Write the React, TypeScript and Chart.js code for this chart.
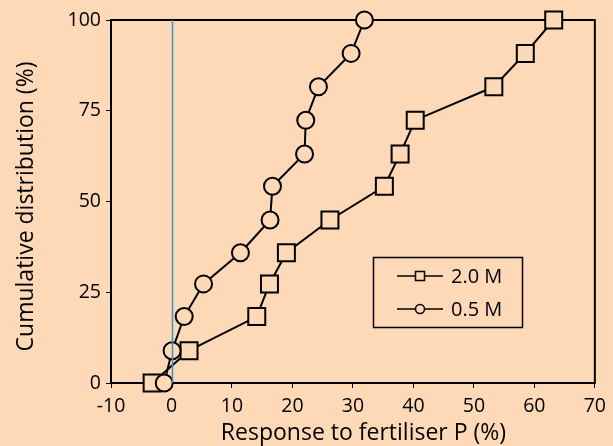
import React, { useEffect, useRef } from "react";
import { Chart, registerables } from "chart.js";

Chart.register(...registerables);

const BG = "#FDD9B7";
const FONT = "'Open Sans', 'Noto Sans', sans-serif";

const seriesLabels = ["2.0 M", "0.5 M"];
const cumulative2M = [0, 8.9, 18.3, 27.3, 35.9, 44.9, 54.2, 63.1, 72.4, 81.6, 90.8, 100];
const response2M = [-3.2, 2.9, 14.1, 16.2, 19.0, 26.2, 35.2, 37.8, 40.3, 53.3, 58.5, 63.2];
const cumulative05M = [0, 8.9, 18.3, 27.3, 35.9, 44.9, 54.2, 63.1, 72.4, 81.6, 90.8, 100];
const response05M = [-1.2, 0.1, 2.1, 5.3, 11.4, 16.3, 16.7, 22.0, 22.2, 24.3, 29.7, 31.9];

const xRange = [-10, 70];
const xStep = 10;
const yRange = [0, 100];
const yStep = 25;
const referenceX = 0;

const xTitle = "Response to fertiliser P (%)";
const yTitle = "Cumulative distribution (%)";

const framePlugin = {
  id: "frame",
  beforeDatasetsDraw(chart: any) {
    const { ctx, chartArea: a } = chart;
    ctx.save();
    ctx.strokeStyle = "#000";
    ctx.lineWidth = 2;
    ctx.strokeRect(a.left, a.top, a.right - a.left, a.bottom - a.top);
    ctx.restore();
  },
  afterDatasetsDraw(chart: any) {
    const { ctx } = chart;
    const xs = chart.scales.x;
    const ys = chart.scales.y;
    const px = xs.getPixelForValue(referenceX) + 1;
    ctx.save();
    ctx.strokeStyle = "#3f93c4";
    ctx.lineWidth = 1.5;
    ctx.beginPath();
    ctx.moveTo(px, ys.getPixelForValue(yRange[1]));
    ctx.lineTo(px, ys.getPixelForValue(yRange[0]));
    ctx.stroke();
    ctx.restore();
  },
  afterDraw(chart: any) {
    const { ctx } = chart;
    ctx.save();
    // axis titles
    ctx.fillStyle = "#000";
    ctx.font = `23px ${FONT}`;
    ctx.textAlign = "center";
    ctx.textBaseline = "alphabetic";
    ctx.fillText(xTitle, 363.5, 440);
    ctx.save();
    ctx.translate(33, 206.5);
    ctx.rotate(-Math.PI / 2);
    ctx.fillText(yTitle, 0, 0);
    ctx.restore();

    // legend
    ctx.strokeStyle = "#000";
    ctx.lineWidth = 1.5;
    ctx.strokeRect(373.5, 257.5, 149, 70);
    const rows = [276, 309];
    rows.forEach((y, i) => {
      ctx.beginPath();
      ctx.moveTo(397, y);
      ctx.lineTo(443, y);
      ctx.lineWidth = 1.5;
      ctx.stroke();
      ctx.fillStyle = BG;
      ctx.lineWidth = 1.5;
      if (i === 0) {
        ctx.fillRect(415.5, y - 4.5, 9, 9);
        ctx.strokeRect(415.5, y - 4.5, 9, 9);
      } else {
        ctx.beginPath();
        ctx.arc(420, y, 4.5, 0, Math.PI * 2);
        ctx.fill();
        ctx.stroke();
      }
      ctx.fillStyle = "#000";
      ctx.font = `20px ${FONT}`;
      ctx.textBaseline = "middle";
      ctx.textAlign = "left";
      ctx.fillText(seriesLabels[i], 451, y + 1);
    });
    ctx.restore();
  },
};

export default function App() {
  const ref = useRef<HTMLCanvasElement>(null);

  useEffect(() => {
    document.body.style.margin = "0";
    document.body.style.background = BG;
    const canvas = ref.current!;
    const chart = new Chart(canvas, {
      type: "scatter",
      data: {
        datasets: [
          {
            label: seriesLabels[0],
            data: response2M.map((x, i) => ({ x, y: cumulative2M[i] })),
            showLine: true,
            borderColor: "#000",
            borderWidth: 2,
            pointStyle: "rect",
            pointRadius: 12,
            pointBorderWidth: 2,
            pointBackgroundColor: BG,
            pointBorderColor: "#000",
            clip: false as any,
            order: 2,
          },
          {
            label: seriesLabels[1],
            data: response05M.map((x, i) => ({ x, y: cumulative05M[i] })),
            showLine: true,
            borderColor: "#000",
            borderWidth: 2,
            pointStyle: "circle",
            pointRadius: 8.5,
            pointBorderWidth: 2,
            pointBackgroundColor: BG,
            pointBorderColor: "#000",
            clip: false as any,
            order: 1,
          },
        ],
      },
      options: {
        animation: false,
        responsive: false,
        devicePixelRatio: 1,
        layout: { padding: { left: 0, top: 20, right: 16, bottom: 0 } },
        plugins: { legend: { display: false }, tooltip: { enabled: false } },
        scales: {
          x: {
            type: "linear",
            min: xRange[0],
            max: xRange[1],
            afterFit: (s: any) => {
              s.height = 63;
            },
            ticks: {
              stepSize: xStep,
              color: "#000",
              font: { family: FONT, size: 19.5 },
              padding: 7,
            },
            grid: {
              drawOnChartArea: false,
              drawTicks: true,
              tickLength: 5,
              color: "#000",
              lineWidth: 1,
            },
            border: { display: true, color: "#000", width: 2 },
            title: { display: false },
          },
          y: {
            type: "linear",
            min: yRange[0],
            max: yRange[1],
            afterFit: (s: any) => {
              s.width = 111;
            },
            ticks: {
              stepSize: yStep,
              color: "#000",
              font: { family: FONT, size: 19.5 },
              padding: 5,
            },
            grid: {
              drawOnChartArea: false,
              drawTicks: true,
              tickLength: 5,
              color: "#000",
              lineWidth: 1,
            },
            border: { display: true, color: "#000", width: 2 },
            title: { display: false },
          },
        },
      },
      plugins: [framePlugin],
    });
    return () => chart.destroy();
  }, []);

  return (
    <div style={{ position: "fixed", left: 0, top: 0, width: 613, height: 446, background: BG }}>
      <canvas ref={ref} width={613} height={446} />
    </div>
  );
}
